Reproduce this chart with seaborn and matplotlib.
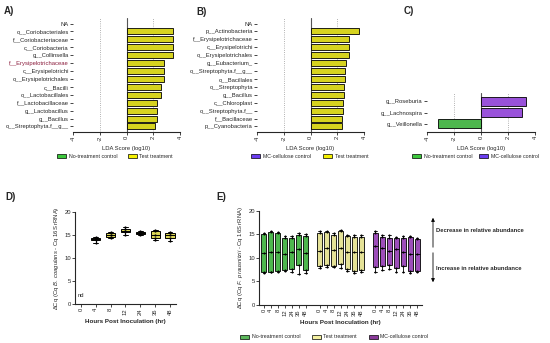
import matplotlib
matplotlib.use("Agg")
import matplotlib.pyplot as plt
from matplotlib.patches import Patch, FancyArrowPatch
import numpy as np
import pandas as pd
import seaborn as sns

sns.set_style("ticks")
plt.rcParams['font.family'] = ['Liberation Sans', 'DejaVu Sans']
plt.rcParams['mathtext.fontset'] = 'custom'
plt.rcParams['mathtext.it'] = 'Liberation Sans:italic'
plt.rcParams['mathtext.rm'] = 'Liberation Sans'

GREEN = '#3cc83c'
YELLOW = '#f4f000'
PURPLE_B = '#6a3cf0'
PURPLE = '#a63ccc'
PALE_YELLOW = '#f2ee8a'

# Panel A - LDA scores, test treatment vs no-treatment control
taxa_a = ['o__Coriobacteriales', 'f__Coriobacteriaceae', 'c__Coriobacteria',
          'g__Collinsella', 'f__Erysipelotrichaceae', 'c__Erysipelotrichi',
          'o__Erysipelotrichales', 'c__Bacilli', 'o__Lactobacillales',
          'f__Lactobacillaceae', 'g__Lactobacillus', 'g__Bacillus',
          'o__Streptophyta.f__g__']
lda_a = [3.45, 3.45, 3.45, 3.45, 2.83, 2.83, 2.83, 2.6, 2.6, 2.3, 2.3, 2.25, 2.1]

# Panel B - test treatment vs MC-cellulose control
taxa_b = ['p__Actinobacteria', 'f__Erysipelotrichaceae', 'c__Erysipelotrichi',
          'o__Erysipelotrichales', 'g__Eubacterium_', 'o__Streptophyta.f__g__',
          'o__Bacillales', 'o__Streptophyta', 'g__Bacillus', 'c__Chloroplast',
          'o__Streptophyta.f__', 'f__Bacillaceae', 'p__Cyanobacteria']
lda_b = [3.65, 2.9, 2.9, 2.9, 2.65, 2.6, 2.55, 2.5, 2.5, 2.4, 2.4, 2.35, 2.35]

# Panel C - MC-cellulose control vs no-treatment control
taxa_c = ['g__Roseburia', 'g__Lachnospira', 'g__Veillonella']
lda_c = [3.3, 3.05, -3.2]
group_c = ['MC-cellulose control', 'MC-cellulose control', 'No-treatment control']

# Panel D - B. coagulans dCq over time (test treatment), 0 h not detected
hours = ['0', '4', '8', '12', '24', '36', '48']
d_vals = {
    '4': [13.3, 13.8, 14.0, 14.3, 14.5],
    '8': [14.2, 14.6, 15.0, 15.4, 15.6],
    '12': [15.0, 15.5, 15.9, 16.3, 16.6],
    '24': [14.9, 15.1, 15.4, 15.7, 15.8],
    '36': [13.8, 14.2, 15.0, 15.8, 16.0],
    '48': [13.7, 14.3, 14.9, 15.3, 15.6],
}

# Panel E - F. prausnitzii dCq over time, three groups
e_groups = ['No-treatment control', 'Test treatment', 'MC-cellulose control']
e_vals = {
    'No-treatment control': [
        [6.8, 7.0, 11.0, 15.0, 15.3], [6.9, 7.1, 11.2, 15.4, 15.6],
        [7.0, 7.3, 11.2, 15.2, 15.5], [7.2, 7.4, 10.8, 14.3, 14.6],
        [7.0, 7.6, 11.3, 14.2, 14.6], [6.6, 8.4, 11.8, 14.9, 15.2],
        [6.8, 7.4, 11.0, 14.6, 15.0]],
    'Test treatment': [
        [7.9, 8.3, 11.4, 15.3, 15.6], [8.1, 8.4, 12.0, 15.5, 15.6],
        [8.0, 8.3, 11.6, 14.8, 15.2], [7.8, 8.8, 12.0, 15.6, 16.0],
        [7.3, 7.7, 11.3, 14.6, 14.8], [6.8, 7.2, 11.3, 14.5, 14.8],
        [6.9, 7.5, 11.2, 14.5, 14.8]],
    'MC-cellulose control': [
        [7.0, 8.0, 12.5, 15.3, 15.6], [7.5, 8.3, 12.0, 14.5, 14.8],
        [7.6, 8.4, 11.5, 14.3, 14.9], [7.0, 7.8, 11.8, 14.2, 14.5],
        [7.0, 8.2, 11.2, 14.3, 14.7], [6.8, 7.2, 10.8, 14.4, 14.7],
        [7.0, 7.3, 10.8, 13.9, 14.2]],
}

FS = 4.2
LFS = 3.8
W, H = 550, 343
fig = plt.figure(figsize=(5.5, 3.43), dpi=100)


def ax_px(x0, y0, x1, y1):
    return fig.add_axes([x0 / W, 1 - y1 / H, (x1 - x0) / W, (y1 - y0) / H])


def lda_axes(ax, df, order, palette, ylim):
    sns.barplot(data=df, x='score', y='taxon', hue='group', order=order,
                palette=palette, dodge=False, edgecolor='black', linewidth=0.6,
                width=0.75, legend=False, ax=ax)
    ax.set_xlim(-4, 4)
    ax.set_ylim(*ylim)
    ax.set_xticks([-4, -2, 0, 2, 4])
    ax.set_xticklabels(['-4', '-2', '0', '2', '4'], rotation=90)
    for v in (-2, 2):
        ax.axvline(v, color='#999999', ls=':', lw=0.6, zorder=0)
    ax.axvline(0, color='#555555', lw=0.8, zorder=0)
    ax.set_xlabel('LDA Score (log10)', fontsize=FS, labelpad=3)
    ax.set_ylabel('')
    ax.tick_params(labelsize=FS, length=2, width=0.6, pad=1)
    sns.despine(ax=ax, left=True)
    ax.spines['bottom'].set_linewidth(0.8)


def small_legend(items, x, y, ncol, spacing=1.2):
    handles = [Patch(facecolor=c, edgecolor='black', linewidth=0.5) for c, _ in items]
    fig.legend(handles, [l for _, l in items], loc='center left',
               bbox_to_anchor=(x / W, 1 - y / H), ncol=ncol, frameon=False,
               fontsize=LFS, handlelength=1.7, handleheight=0.75,
               columnspacing=spacing, handletextpad=0.5, borderaxespad=0,
               borderpad=0)


# ---- A
df_a = pd.DataFrame({'taxon': taxa_a, 'score': lda_a, 'group': 'Test treatment'})
ax_a = ax_px(73, 18, 180, 132)
lda_axes(ax_a, df_a, ['NA'] + taxa_a, {'Test treatment': YELLOW}, (13.7, -0.7))
for lbl in ax_a.get_yticklabels():
    if lbl.get_text() == 'f__Erysipelotrichaceae':
        lbl.set_color('#8b1c3c')
small_legend([(GREEN, 'No-treatment control'), (YELLOW, 'Test treatment')], 57, 156, 2, 2.0)

# ---- B
df_b = pd.DataFrame({'taxon': taxa_b, 'score': lda_b, 'group': 'Test treatment'})
ax_b = ax_px(257, 18, 364, 132)
lda_axes(ax_b, df_b, ['NA'] + taxa_b, {'Test treatment': YELLOW}, (13.7, -0.7))
small_legend([(PURPLE_B, 'MC-cellulose control'), (YELLOW, 'Test treatment')], 251, 156, 2, 2.4)

# ---- C
df_c = pd.DataFrame({'taxon': taxa_c, 'score': lda_c, 'group': group_c})
ax_c = ax_px(427, 93, 535, 132)
lda_axes(ax_c, df_c, taxa_c,
         {'MC-cellulose control': '#9a3cf0', 'No-treatment control': GREEN},
         (2.75, -0.75))
small_legend([(GREEN, 'No-treatment control'), (PURPLE_B, 'MC-cellulose control')], 412, 156, 2, 1.3)

# ---- D
rows = [(h, v) for h in hours[1:] for v in d_vals[h]]
df_d = pd.DataFrame(rows, columns=['hour', 'dcq'])
ax_d = ax_px(75, 211.7, 176, 304)
sns.boxplot(data=df_d, x='hour', y='dcq', order=hours, color='#f0ea40',
            linecolor='black', linewidth=0.7, width=0.62, whis=(0, 100),
            fliersize=0, ax=ax_d)
sns.stripplot(data=df_d, x='hour', y='dcq', order=hours, color='black',
              size=1.6, jitter=False, ax=ax_d)
ax_d.text(0, 1.2, 'nd', ha='center', va='bottom', fontsize=FS)
ax_d.set_ylim(0, 20)
ax_d.set_xlim(-0.4, 6.4)
ax_d.set_yticks([0, 5, 10, 15, 20])
ax_d.set_xticks(range(len(hours)))
ax_d.set_xticklabels(hours, rotation=90)
ax_d.set_xlabel('Hours Post Inoculation (hr)', fontsize=FS + 0.3,
                fontweight='bold', labelpad=3)
ax_d.set_ylabel(r'ΔCq (Cq $\it{B.\ coagulans}$ - Cq 16S rRNA)', fontsize=FS, labelpad=2)
ax_d.tick_params(labelsize=FS, length=2, width=0.6, pad=1)
sns.despine(ax=ax_d)

# ---- E
e_order = []
rows = []
for gi, g in enumerate(e_groups):
    for hi, h in enumerate(hours):
        key = f'{g}|{h}'
        e_order.append(key)
        for v in e_vals[g][hi]:
            rows.append((key, g, v))
    if gi < len(e_groups) - 1:
        e_order.append(f'gap{gi}')
df_e = pd.DataFrame(rows, columns=['slot', 'group', 'dcq'])
ax_e = ax_px(259, 210.7, 422, 305)
sns.boxplot(data=df_e, x='slot', y='dcq', hue='group', order=e_order,
            hue_order=e_groups, dodge=False, legend=False,
            palette=[GREEN, PALE_YELLOW, PURPLE], linecolor='black',
            linewidth=0.6, width=0.72, whis=(0, 100), fliersize=0, ax=ax_e)
sns.stripplot(data=df_e, x='slot', y='dcq', order=e_order, color='black',
              size=1.5, jitter=False, ax=ax_e)
ax_e.set_ylim(0, 20)
ax_e.set_xlim(-0.7, len(e_order) - 0.3)
ax_e.set_yticks([0, 5, 10, 15, 20])
ax_e.set_xticks(range(len(e_order)))
ax_e.set_xticklabels([s.split('|')[1] if '|' in s else '' for s in e_order],
                     rotation=90)
for t, s in zip(ax_e.get_xticklines()[::2], e_order):
    if '|' not in s:
        t.set_visible(False)
ax_e.set_xlabel('Hours Post Inoculation (hr)', fontsize=FS + 0.3,
                fontweight='bold', labelpad=3)
ax_e.set_ylabel(r'ΔCq (Cq $\it{F.\ prausnitzii}$ - Cq 16S rRNA)', fontsize=FS, labelpad=2)
ax_e.tick_params(labelsize=FS, length=2, width=0.6, pad=1)
sns.despine(ax=ax_e)

# direction arrow beside panel E
ax_x = 433 / W
for y_end in (215, 285):
    fig.add_artist(FancyArrowPatch(
        (ax_x, 1 - 250 / H), (ax_x, 1 - y_end / H), transform=fig.transFigure,
        arrowstyle='-|>', mutation_scale=5, lw=0.6, color='black'))
fig.text(436 / W, 1 - 230 / H, 'Decrease in relative abundance', fontsize=FS,
         fontweight='bold', va='center')
fig.text(436 / W, 1 - 268 / H, 'Increase in relative abundance', fontsize=FS,
         fontweight='bold', va='center')
small_legend([('#5cb85c', 'No-treatment control'), ('#f4f0a0', 'Test treatment'),
              ('#8a3a9a', 'MC-cellulose control')], 240, 337, 3, 2.2)

# panel letters
for letter, x, y in [('A)', 4, 11), ('B)', 196, 12), ('C)', 404, 11),
                     ('D)', 5, 197), ('E)', 216, 197)]:
    fig.text(x / W, 1 - y / H, letter, fontsize=7, fontweight='bold', va='center')

fig.savefig('out.png', dpi=100)
